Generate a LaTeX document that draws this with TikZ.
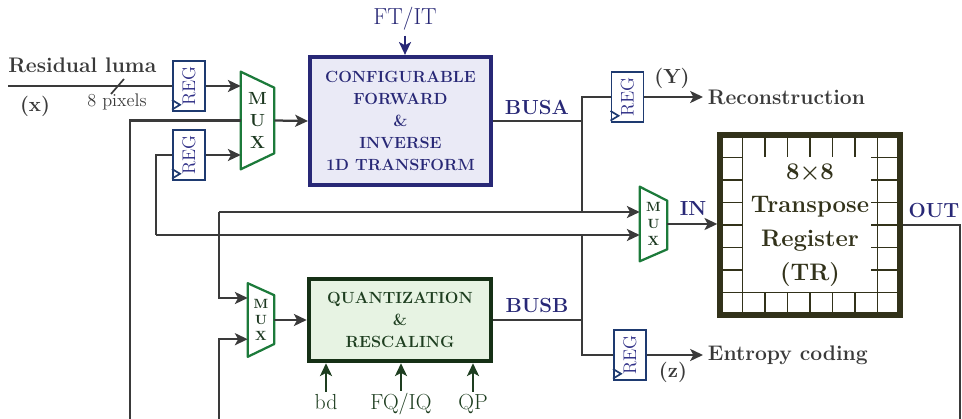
\documentclass[tikz,border=0pt]{standalone}
\usetikzlibrary{arrows.meta}

\definecolor{wirecol}{RGB}{58,58,58}
\definecolor{regcol}{RGB}{30,58,112}
\definecolor{regtxt}{RGB}{48,48,135}
\definecolor{muxcol}{RGB}{28,122,58}
\definecolor{muxtxt}{RGB}{28,56,32}
\definecolor{navy}{RGB}{40,40,118}
\definecolor{tfill}{RGB}{234,234,246}
\definecolor{qcol}{RGB}{22,48,22}
\definecolor{qfill}{RGB}{231,243,227}
\definecolor{qtxt}{RGB}{30,62,32}
\definecolor{trcol}{RGB}{50,50,26}

\tikzset{
  wire/.style={draw=wirecol, line width=1.6pt},
  arr/.style={wire, -{Stealth[length=3.2mm, width=3mm, inset=0.8mm]}},
  regbox/.style={draw=regcol, line width=1.4pt, minimum width=0.8cm, minimum height=1.25cm,
    inner sep=0, text=regtxt, font=\fontsize{13}{15}\selectfont},
  clk/.style={draw=regcol, line width=1.2pt},
  muxbox/.style={inner sep=0, text=muxtxt, align=center},
  muxline/.style={draw=muxcol, line width=1.6pt, line join=round},
  tblock/.style={draw=navy, line width=3pt, fill=tfill, minimum width=4.52cm, minimum height=3.2cm,
    inner sep=0, text=navy, align=center, font=\fontsize{11.5}{15.6}\selectfont\bfseries},
  qblock/.style={draw=qcol, line width=3.2pt, fill=qfill, minimum width=4.55cm, minimum height=2.05cm,
    inner sep=0, text=qtxt, align=center, font=\fontsize{11.5}{15.6}\selectfont\bfseries},
  trbox/.style={draw=trcol, line width=3.8pt, minimum size=4.5cm, inner sep=0, text=trcol,
    align=center, font=\fontsize{17}{24}\selectfont\bfseries},
  trgrid/.style={draw=trcol, line width=0.9pt},
  lbl/.style={text=wirecol, font=\fontsize{15}{18}\selectfont\bfseries},
  buslbl/.style={text=navy, inner sep=0, font=\fontsize{14.5}{16}\selectfont\bfseries},
  qlbl/.style={text=qtxt, inner sep=2pt, anchor=base, font=\fontsize{15.5}{18}\selectfont},
  qarr/.style={arr, draw=qtxt},
}

\begin{document}
\begin{tikzpicture}[x=0.025cm, y=-0.025cm]
    \useasboundingbox (0,0) rectangle (962,419);

    % cells of the transpose register
    \begin{scope}[shift={(720,315)}, x=0.5625cm, y=0.5625cm]
        \draw[trgrid, step=1] (0,0) grid (8,8);
        \fill[white] (1,1) rectangle (6.7,7);
    \end{scope}

    % registers
    \node[regbox] (reg1) at (189,86) {\rotatebox{90}{REG}};
    \node[regbox] (reg2) at (189,155) {\rotatebox{90}{REG}};
    \node[regbox] (reg3) at (627.5,97) {\rotatebox{90}{REG}};
    \node[regbox] (reg4) at (630,355) {\rotatebox{90}{REG}};
    \foreach \r in {reg1,reg2,reg3,reg4}
        \draw[clk] ([yshift=0.06cm]\r.south west) -- ([xshift=0.2cm,yshift=0.18cm]\r.south west)
            -- ([yshift=0.3cm]\r.south west);

    % multiplexers
    \node[muxbox, minimum width=0.825cm, minimum height=2.425cm,
        font=\fontsize{12.5}{15.6}\selectfont\bfseries] (mux1) at (257.5,120.5) {M\\U\\X};
    \node[muxbox, minimum width=0.65cm, minimum height=1.825cm,
        font=\fontsize{9.5}{11.4}\selectfont\bfseries] (qmux) at (261,320) {M\\U\\X};
    \node[muxbox, minimum width=0.675cm, minimum height=1.85cm,
        font=\fontsize{9.5}{12}\selectfont\bfseries] (tmux) at (653.5,224) {M\\U\\X};
    \draw[muxline] (mux1.north west) -- ([yshift=-0.4cm]mux1.north east)
        -- ([yshift=0.4cm]mux1.south east) -- (mux1.south west) -- cycle;
    \draw[muxline] (qmux.north west) -- ([yshift=-0.3cm]qmux.north east)
        -- ([yshift=0.32cm]qmux.south east) -- (qmux.south west) -- cycle;
    \draw[muxline] (tmux.north west) -- ([yshift=-0.35cm]tmux.north east)
        -- ([yshift=0.3cm]tmux.south east) -- (tmux.south west) -- cycle;

    % main blocks
    \node[tblock] (tfm) at (400.5,121) {CONFIGURABLE\\FORWARD\\\&\\INVERSE\\1D TRANSFORM};
    \node[qblock] (qblk) at (400,320) {QUANTIZATION\\\&\\RESCALING};
    \node[trbox] (tr) at (810,225) {8×8\\Transpose\\Register\\(TR)};

    % input
    \node[lbl, anchor=base west, inner sep=0] (luma) at (8,73) {Residual luma};
    \node[lbl, font=\fontsize{14.5}{16}\selectfont\bfseries] (xlbl) at (35,106) {(x)};
    \node[text=wirecol, font=\fontsize{13}{14}\selectfont] (npix) at (117,102) {8 pixels};
    \coordinate (xin) at (8,86);
    \draw[wire] (xin) -- (reg1.west);
    \draw[wire, line width=1.2pt] (111,94) -- (124,79);
    \draw[arr] (reg1.east) -- (mux1.west |- reg1.east);

    % control inputs
    \node[text=navy, font=\fontsize{16.5}{18}\selectfont] (ftit) at (405,19) {FT/IT};
    \draw[arr, draw=navy] (ftit.south) -- (ftit.south |- tfm.north);
    \node[qlbl] (bd) at (326,410) {bd};
    \node[qlbl] (fqiq) at (401,410) {FQ/IQ};
    \node[qlbl] (qp) at (473,410) {QP};
    \draw[qarr] (bd.north) -- (bd.north |- qblk.south);
    \draw[qarr] (fqiq.north) -- (fqiq.north |- qblk.south);
    \draw[qarr] (qp.north) -- (qp.north |- qblk.south);

    % datapath
    \coordinate (fb1) at (130,419);
    \coordinate (fb2) at (960,419);
    \coordinate (fb3) at (219,419);
    \coordinate (ca) at (219,212);
    \coordinate (cb) at (156,235);
    \coordinate (ja) at (582,121);
    \coordinate (jb) at (582,320);

    \draw[wire] (fb1) |- (mux1.west);
    \draw[arr] (mux1.east) -- (tfm.west);
    \draw[wire] (tfm.east) -- (ja);
    \node[buslbl] (busa) at (537,107) {BUSA};
    \draw[wire] (reg3.west) -| (ja |- ca);

    \draw[arr] (ca) -- (tmux.west |- ca);
    \draw[arr] (ca) |- ([yshift=0.55cm]qmux.west);
    \draw[arr] (fb3) |- ([yshift=-0.48cm]qmux.west);
    \draw[arr] (qmux.east) -- (qblk.west);
    \draw[wire] (qblk.east) -- (jb);
    \node[buslbl] (busb) at (537,306) {BUSB};
    \draw[wire] (jb |- cb) |- (reg4.west);

    \draw[arr] (cb) -- (tmux.west |- cb);
    \draw[wire] (cb) |- (reg2.west);
    \draw[arr] (reg2.east) -- (mux1.west |- reg2.east);

    \draw[arr] (tmux.east) -- (tmux.east -| tr.west);
    \node[buslbl] (inlbl) at (693,208.5) {IN};
    \draw[wire] (tr.east) -| (fb2);
    \node[buslbl] (outlbl) at (934,211) {OUT};

    % outputs
    \node[lbl, anchor=west] (recon) at (703,97) {Reconstruction};
    \node[lbl, font=\fontsize{14.5}{16}\selectfont\bfseries] (ylbl) at (672,78) {(Y)};
    \draw[arr] (reg3.east) -- (recon.west);
    \node[lbl, anchor=west] (entropy) at (703,355) {Entropy coding};
    \node[lbl, font=\fontsize{14.5}{16}\selectfont\bfseries] (zlbl) at (673,372) {(z)};
    \draw[arr] (reg4.east) -- (entropy.west);
\end{tikzpicture}
\end{document}
